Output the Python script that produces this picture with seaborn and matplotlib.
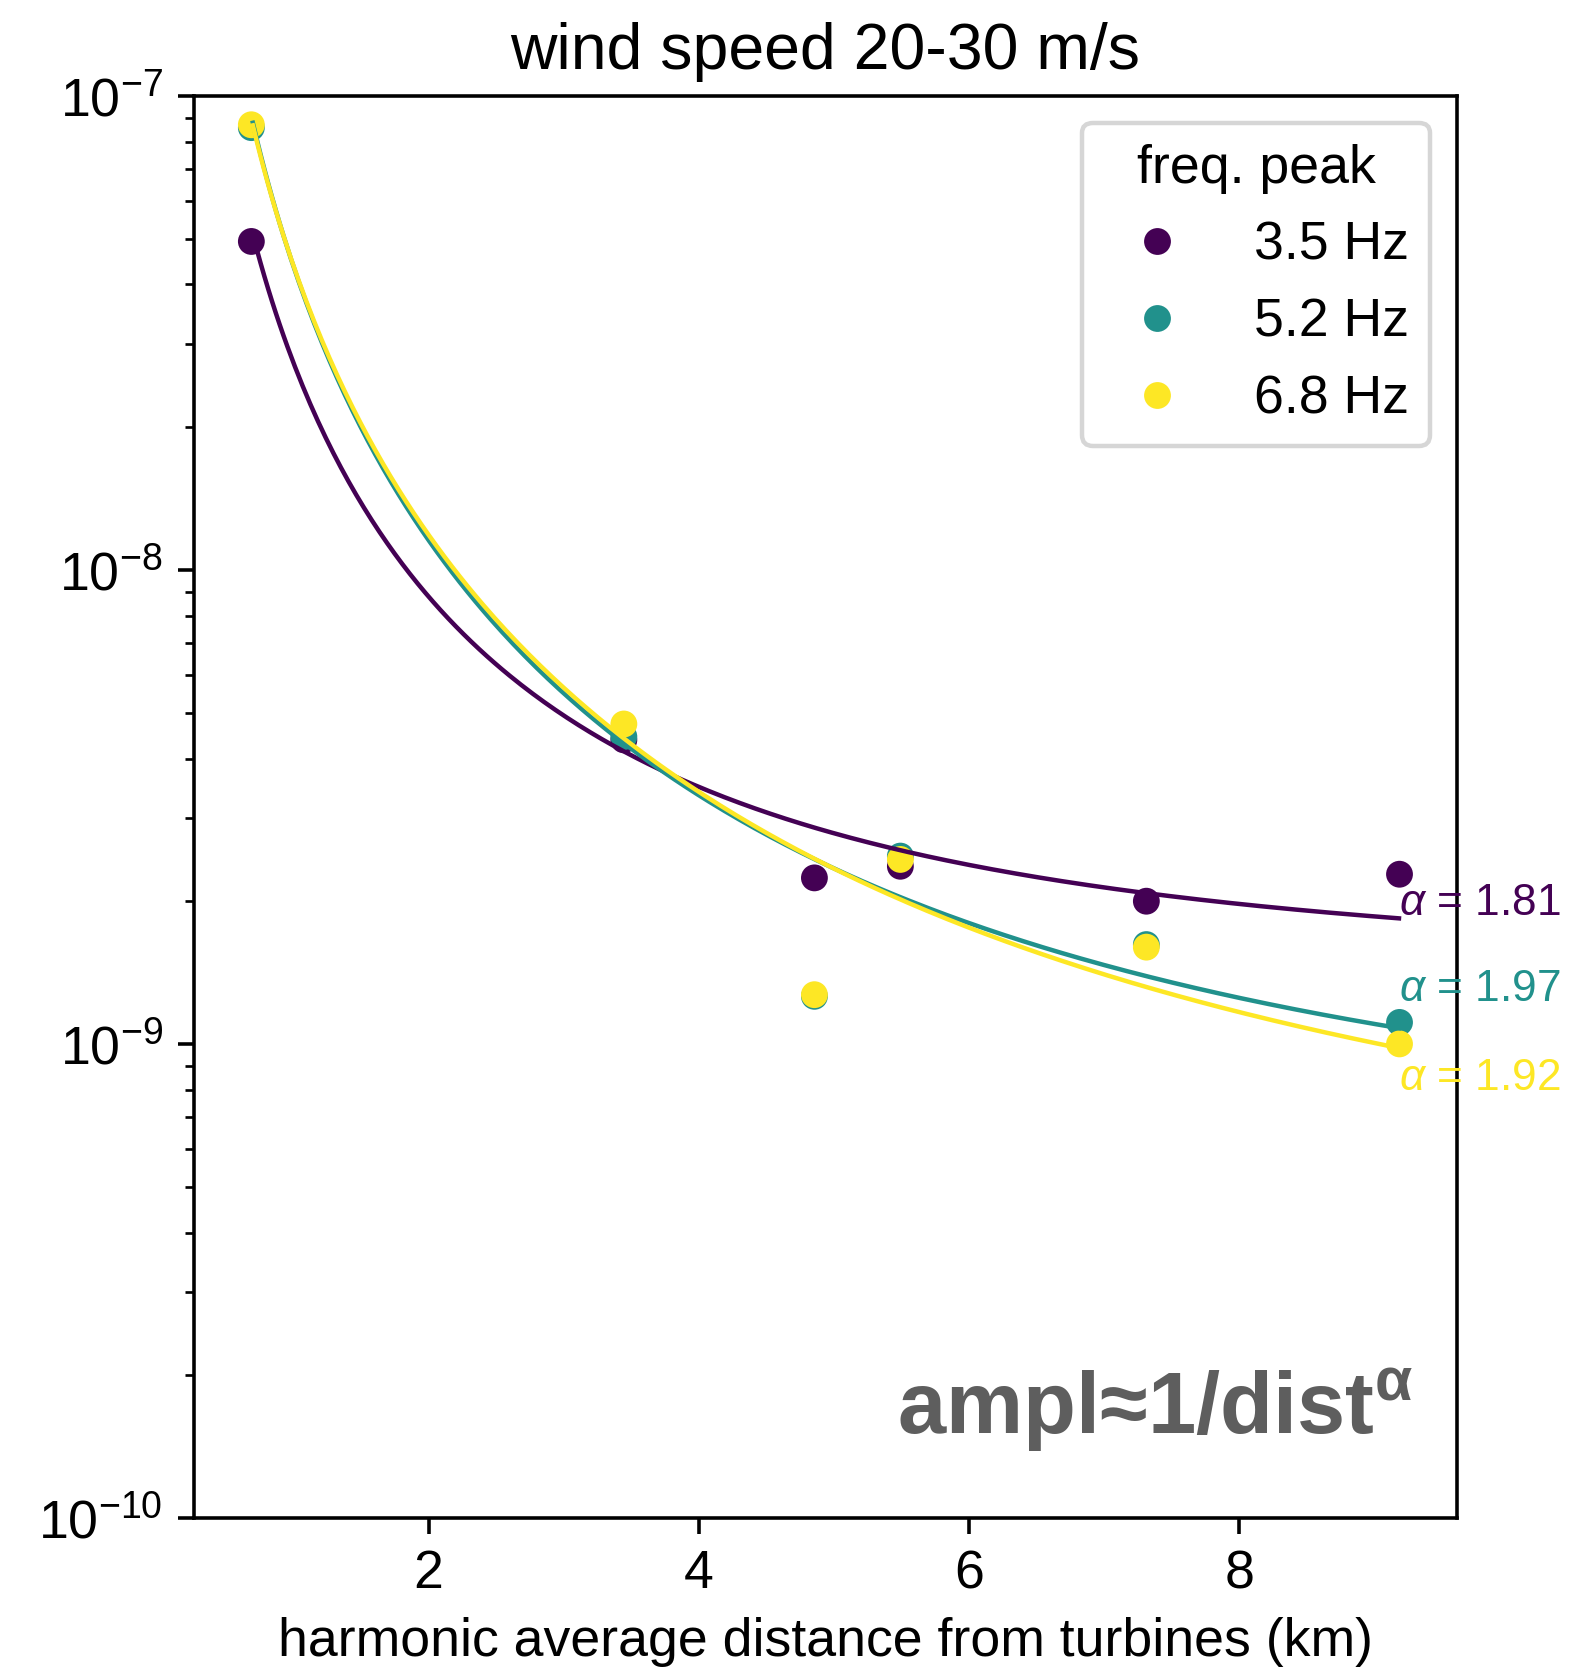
import matplotlib
matplotlib.use("Agg")
import matplotlib.pyplot as plt
import numpy as np
import pandas as pd
import seaborn as sns

# ---------------- data ----------------
freq_labels = ["3.5 Hz", "5.2 Hz", "6.8 Hz"]
series_colors = ["#440154", "#21918c", "#fde725"]

distance_km = [0.689, 3.445, 4.855, 5.491, 7.311, 9.184]
ampl_35 = [4.93e-8, 4.38e-9, 2.24e-9, 2.37e-9, 2.00e-9, 2.28e-9]
ampl_52 = [8.57e-8, 4.45e-9, 1.26e-9, 2.49e-9, 1.62e-9, 1.11e-9]
ampl_68 = [8.69e-8, 4.73e-9, 1.27e-9, 2.45e-9, 1.60e-9, 1.00e-9]

# fitted law drawn in the chart: ampl = A / dist**alpha + C
alpha_fit = [1.81, 1.97, 1.92]
amp_fit = [2.6e-8, 4.319e-8, 4.35e-8]
offset_fit = [1.37e-9, 0.532e-9, 0.364e-9]
fit_range = [0.70, 9.18]

alpha_values = ["1.81", "1.97", "1.92"]
alpha_label_x = 9.18
alpha_label_y = [1.87e-9, 1.23e-9, 8.0e-10]

x_ticks = [2, 4, 6, 8]
title_text = "wind speed 20-30 m/s"
xlabel_text = "harmonic average distance from turbines (km)"
legend_title = "freq. peak"
law_text = r"ampl≈1/dist$^{\mathbf{\alpha}}$"

# ---------------- style ----------------
plt.rcParams.update({
    "font.size": 12,
    "axes.titlesize": 14.4,
    "axes.labelsize": 12,
    "xtick.labelsize": 12,
    "ytick.labelsize": 12,
    "legend.fontsize": 12,
    "legend.title_fontsize": 12,
    "mathtext.fontset": "custom",
    "mathtext.rm": "Liberation Sans",
    "mathtext.it": "Liberation Sans:italic",
    "mathtext.bf": "Liberation Sans:bold",
    "mathtext.sf": "Liberation Sans",
})
plt.rcParams["font.family"] = ["Liberation Sans", "DejaVu Sans"]

DPI = 322
fig = plt.figure(figsize=(1573 / DPI, 1673 / DPI), dpi=DPI)
ax = fig.add_axes([0.1233, 0.0927, 0.8029, 0.8500])

# ---------------- tables ----------------
pts = pd.DataFrame({
    "dist": distance_km * 3,
    "ampl": ampl_35 + ampl_52 + ampl_68,
    legend_title: [freq_labels[0]] * 6 + [freq_labels[1]] * 6 + [freq_labels[2]] * 6,
})

grid = np.linspace(fit_range[0], fit_range[1], 300)
fit_frames = []
for lab, a, amp, off in zip(freq_labels, alpha_fit, amp_fit, offset_fit):
    fit_frames.append(pd.DataFrame({
        "dist": grid,
        "ampl": amp / grid ** a + off,
        "freq": lab,
    }))
fits = pd.concat(fit_frames, ignore_index=True)

sns.scatterplot(data=pts, x="dist", y="ampl", hue=legend_title,
                hue_order=freq_labels, palette=series_colors, s=36,
                linewidth=0, edgecolor="none", ax=ax)
sns.lineplot(data=fits, x="dist", y="ampl", hue="freq", hue_order=freq_labels,
             palette=series_colors, linewidth=1.0, estimator=None,
             legend=False, ax=ax)

ax.set_yscale("log")
ax.set_ylim(1e-10, 1e-7)
ax.set_xticks(x_ticks)
ax.set_xlabel(xlabel_text)
ax.set_ylabel("")
ax.set_title(title_text)

for val, yv, col in zip(alpha_values, alpha_label_y, series_colors):
    ax.text(alpha_label_x, yv, r"$\alpha$ = " + val, color=col, fontsize=9.9,
            ha="left", va="baseline", clip_on=False)

ax.text(0.965, 0.045, law_text, transform=ax.transAxes, ha="right",
        va="bottom", fontsize=19.4, fontweight="bold", color="#5e5e5e")

sns.move_legend(ax, "upper right", title=legend_title)

fig.savefig("out.png", dpi=DPI)
